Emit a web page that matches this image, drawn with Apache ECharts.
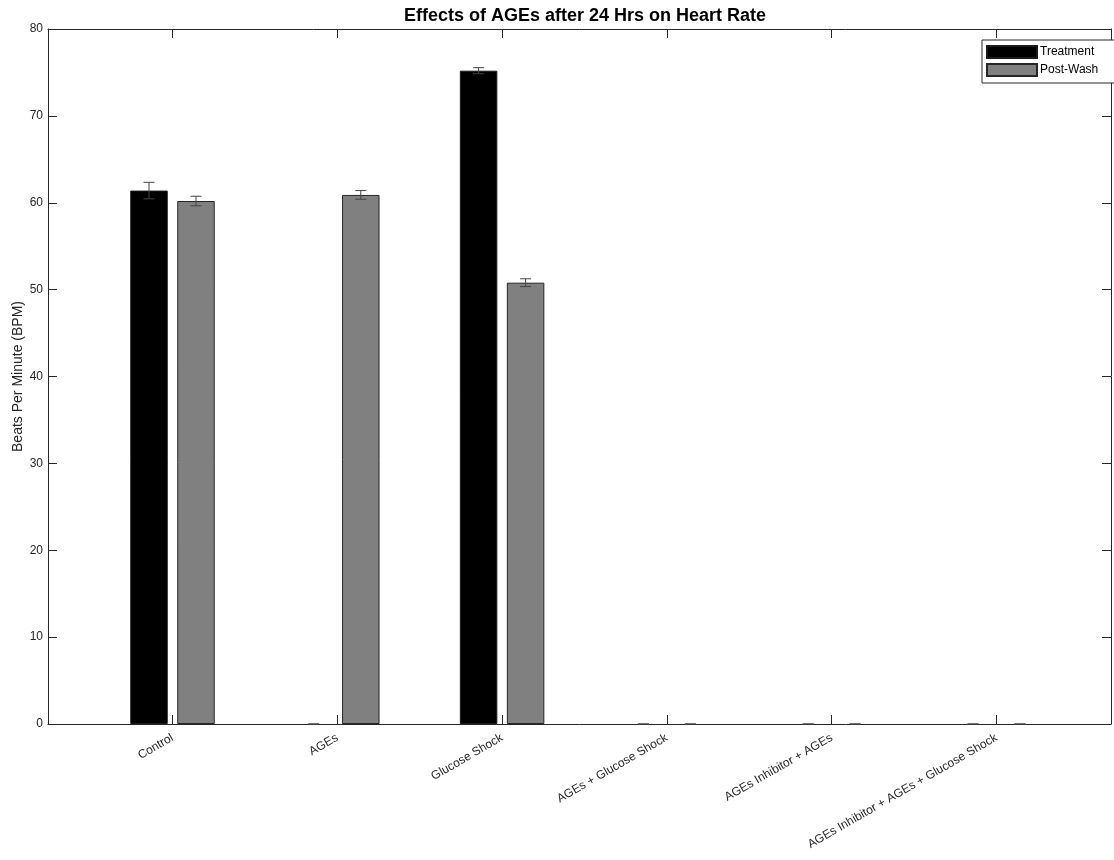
<!DOCTYPE html>
<html><head><meta charset="utf-8">
<script src="https://cdn.jsdelivr.net/npm/echarts@6/dist/echarts.min.js"></script>
<style>html,body{margin:0;padding:0;background:#fff}#c{width:1114px;height:860px}</style>
</head><body><div id="c"></div>
<script>
const categories = ['Control','AGEs','Glucose Shock','AGEs + Glucose Shock','AGEs Inhibitor + AGEs','AGEs Inhibitor + AGEs + Glucose Shock'];
const treatment = [61.4, 0, 75.2, 0, 0, 0];
const treatmentErr = [0.95, 0, 0.35, 0, 0, 0];
const postWash = [60.2, 60.9, 50.8, 0, 0, 0];
const postWashErr = [0.55, 0.5, 0.45, 0, 0, 0];
const yTicks = [0,10,20,30,40,50,60,70,80];

const FONT = 'Liberation Sans, Arial, Helvetica, sans-serif';
const AX = '#262626';
const barW = 37.5, gapRatio = 0.253;
const halfSep = barW * (1 + gapRatio) / 2;
const catIdx = categories.map((_, i) => i + 1);

function barData(vals) {
  return vals.map((v, i) => ({ value: [i + 1, v], itemStyle: v === 0 ? { borderWidth: 0, opacity: 0 } : {} }));
}
function errSeries(name, vals, errs, off) {
  return {
    type: 'custom', name: name + '-err', silent: true, z: 5,
    data: vals.map((v, i) => [i + 1, v, errs[i]]),
    renderItem: function (params, api) {
      const x = api.value(0), v = api.value(1), e = api.value(2);
      const pTop = api.coord([x, v + e]);
      const pBot = api.coord([x, v - e]);
      const cx = pTop[0] + off;
      const cap = 5.5;
      const st = { stroke: '#444', lineWidth: 1 };
      return { type: 'group', children: [
        { type: 'line', shape: { x1: cx, y1: pTop[1], x2: cx, y2: pBot[1] }, style: st },
        { type: 'line', shape: { x1: cx - cap, y1: pTop[1], x2: cx + cap, y2: pTop[1] }, style: st },
        { type: 'line', shape: { x1: cx - cap, y1: pBot[1], x2: cx + cap, y2: pBot[1] }, style: st }
      ]};
    }
  };
}

const xMin = 0.2445, xMax = 6.695;
const chart = echarts.init(document.getElementById('c'), null, { renderer: 'canvas' });
chart.setOption({
  animation: false,
  backgroundColor: '#fff',
  textStyle: { fontFamily: FONT },
  title: {
    text: 'Effects of AGEs after 24 Hrs on Heart Rate',
    left: 580, top: 2, textAlign: 'center',
    textStyle: { fontFamily: FONT, fontSize: 18, fontWeight: 'bold', color: '#000' }
  },
  legend: {
    data: ['Treatment', 'Post-Wash'],
    left: 982, top: 40, orient: 'vertical',
    itemWidth: 50, itemHeight: 12, itemGap: 4,
    padding: [5, 30, 6, 4],
    borderColor: AX, borderWidth: 1, backgroundColor: '#fff',
    icon: 'rect',
    textStyle: { fontFamily: FONT, fontSize: 12, color: '#000', padding: [0, 0, 0, -2] }
  },
  grid: { left: 48, right: 3, top: 29, bottom: 136, outerBoundsMode: 'none', containLabel: false },
  xAxis: [{
    type: 'value', min: xMin, max: xMax,
    axisLine: { show: true, onZero: false, lineStyle: { color: AX, width: 1 } },
    axisTick: { show: true, inside: true, length: 9, customValues: catIdx, lineStyle: { color: AX } },
    axisLabel: {
      customValues: catIdx, rotate: 30, margin: 13,
      fontFamily: FONT, fontSize: 12, color: AX,
      formatter: v => categories[Math.round(v) - 1] || ''
    },
    splitLine: { show: false }
  }, {
    type: 'value', min: xMin, max: xMax, position: 'top',
    axisLine: { show: true, onZero: false, lineStyle: { color: AX, width: 1 } },
    axisTick: { show: true, inside: true, length: 9, customValues: catIdx, lineStyle: { color: AX } },
    axisLabel: { show: false }, splitLine: { show: false }
  }],
  yAxis: [{
    type: 'value', min: 0, max: 80, interval: 10,
    name: 'Beats Per Minute (BPM)', nameLocation: 'middle', nameGap: 23, nameRotate: 90,
    nameMoveOverlap: false,
    nameTextStyle: { fontFamily: FONT, fontSize: 14, color: AX },
    axisLine: { show: true, lineStyle: { color: AX, width: 1 } },
    axisTick: { show: true, inside: true, length: 9, lineStyle: { color: AX } },
    axisLabel: { fontFamily: FONT, fontSize: 12, color: AX, margin: 5, formatter: v => yTicks.includes(v) ? String(v) : '' },
    splitLine: { show: false }
  }, {
    type: 'value', min: 0, max: 80, interval: 10, position: 'right',
    axisLine: { show: true, lineStyle: { color: AX, width: 1 } },
    axisTick: { show: true, inside: true, length: 9, lineStyle: { color: AX } },
    axisLabel: { show: false }, splitLine: { show: false }
  }],
  series: [
    { type: 'bar', name: 'Treatment', data: barData(treatment), barWidth: barW, barGap: (gapRatio * 100) + '%',
      itemStyle: { color: '#000', borderColor: '#1a1a1a', borderWidth: 1 } },
    { type: 'bar', name: 'Post-Wash', data: barData(postWash), barWidth: barW,
      itemStyle: { color: '#808080', borderColor: '#262626', borderWidth: 1 } },
    errSeries('Treatment', treatment, treatmentErr, -halfSep),
    errSeries('Post-Wash', postWash, postWashErr, halfSep)
  ]
});
</script></body></html>
